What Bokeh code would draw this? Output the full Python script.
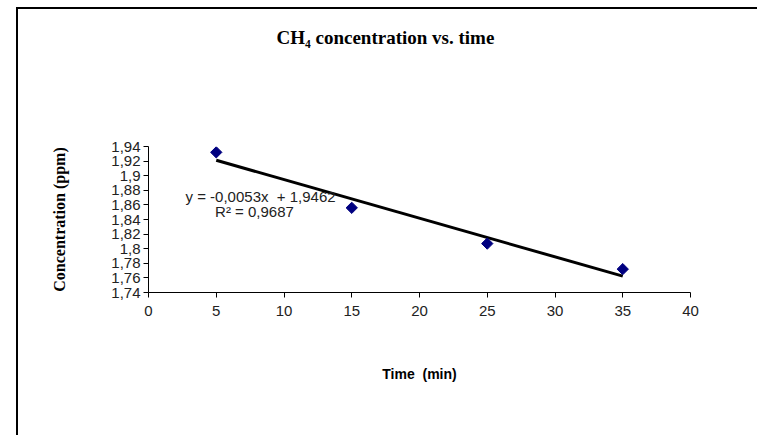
import numpy as np
from bokeh.plotting import figure
from bokeh.models import (ColumnDataSource, FixedTicker, CustomJSTickFormatter,
                          Label, Range1d, Title)
from bokeh.embed import file_html
from bokeh.resources import INLINE

# ---- data ----
time_min = [5, 15, 25, 35]
conc_ppm = [1.932, 1.856, 1.807, 1.772]
x_ticks = [0, 5, 10, 15, 20, 25, 30, 35, 40]
y_ticks = [1.74, 1.76, 1.78, 1.80, 1.82, 1.84, 1.86, 1.88, 1.90, 1.92, 1.94]
title_text = "CH\u2084 concentration vs. time"
x_label = "Time\u00a0 (min)"
y_label = "Concentration (ppm)"
eq_text = "y = -0,0053x\u00a0 + 1,9462"
r2_text = "R\u00b2 = 0,9687"

# linear trend from the data
slope, intercept = np.polyfit(time_min, conc_ppm, 1)
trend_x = [min(time_min), max(time_min)]
trend_y = [slope * x + intercept for x in trend_x]

p = figure(width=757, height=435, output_backend="svg", toolbar_location=None,
           x_range=Range1d(0, 40), y_range=Range1d(1.74, 1.94),
           min_border_left=148, min_border_right=67,
           min_border_top=146, min_border_bottom=143)
p.title_location = None
p.background_fill_color = None
p.border_fill_color = None
p.outline_line_color = None
p.grid.visible = False
# chart-area border (left and top edges) drawn as the element background
p.styles = {
    "background": ("linear-gradient(#000,#000) 16px 7px / 2px 100% no-repeat, "
                   "linear-gradient(#000,#000) 16px 7px / 100% 2px no-repeat, "
                   "#ffffff"),
}

# spacer between plot area and title, then the title itself
p.add_layout(Title(text="\u00a0", text_font_size="1px", standoff=96), "above")
p.add_layout(Title(text=title_text, align="left", offset=128, standoff=0,
                   text_font="Liberation Serif", text_font_style="bold",
                   text_font_size="19px", text_color="black"), "above")

# axes
for ax in (p.xaxis[0], p.yaxis[0]):
    ax.axis_line_color = "black"
    ax.axis_line_width = 1
    ax.major_tick_line_color = "black"
    ax.major_tick_in = 0
    ax.major_tick_out = 5
    ax.minor_tick_line_color = None
    ax.major_label_text_font = "Liberation Sans"
    ax.major_label_text_font_size = "15px"
    ax.major_label_text_color = "#222222"
    ax.axis_label_text_color = "black"
p.xaxis.major_label_standoff = 8
p.yaxis.major_label_standoff = 3

p.xaxis.ticker = FixedTicker(ticks=x_ticks)
p.yaxis.ticker = FixedTicker(ticks=y_ticks)
p.yaxis.formatter = CustomJSTickFormatter(code="""
    let s = tick.toFixed(2);
    s = s.replace(/0+$/, '').replace(/\\.$/, '');
    return s.replace('.', ',');
""")
p.xaxis.axis_label = x_label
p.xaxis.axis_label_text_font = "Liberation Sans"
p.xaxis.axis_label_text_font_style = "bold"
p.xaxis.axis_label_text_font_size = "14px"
p.xaxis.axis_label_standoff = 47
p.yaxis.axis_label = y_label
p.yaxis.axis_label_text_font = "Liberation Serif"
p.yaxis.axis_label_text_font_style = "bold"
p.yaxis.axis_label_text_font_size = "16px"
p.yaxis.axis_label_standoff = 40

src = ColumnDataSource(dict(x=time_min, y=conc_ppm))
p.line(trend_x, trend_y, line_color="black", line_width=3)
p.scatter("x", "y", source=src, marker="square", angle=np.pi / 4, size=8,
          fill_color="#000080", line_color="#000080")

# trendline equation
p.add_layout(Label(x=8.27, y=1.8715, text=eq_text, text_align="center",
                   text_baseline="middle", text_font="Liberation Sans",
                   text_font_size="15px", text_color="#222222"))
p.add_layout(Label(x=7.82, y=1.851, text=r2_text, text_align="center",
                   text_baseline="middle", text_font="Liberation Sans",
                   text_font_size="15px", text_color="#222222"))

open("out.html", "w").write(file_html(p, INLINE))
